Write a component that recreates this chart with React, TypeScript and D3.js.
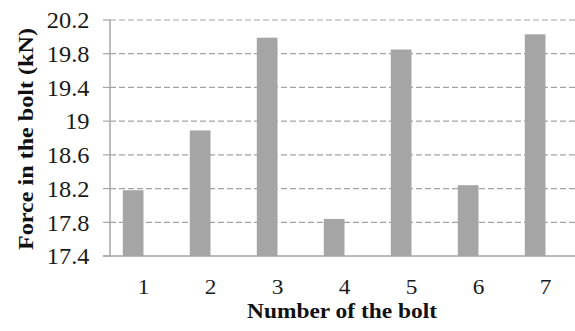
import React from "react";
import * as d3 from "d3";

const categories = ["1", "2", "3", "4", "5", "6", "7"];
const forces = [18.18, 18.89, 19.99, 17.84, 19.85, 18.24, 20.03];
const yTicks = [17.4, 17.8, 18.2, 18.6, 19, 19.4, 19.8, 20.2];

const W = 575;
const H = 331;
const margin = { left: 110, top: 20, right: -4, bottom: 75 };

export default function App() {
  const plotRight = W - margin.right;
  const plotBottom = H - margin.bottom;
  const x = d3
    .scaleBand<string>()
    .domain(categories)
    .range([margin.left, margin.left + 67 * categories.length])
    .paddingInner(0)
    .paddingOuter(0);
  const y = d3.scaleLinear().domain([17.4, 20.2]).range([plotBottom, margin.top]);
  const barW = 20.7;
  const serif = "'Liberation Serif', 'Times New Roman', serif";

  return (
    <svg
      width={W}
      height={H}
      style={{ position: "absolute", left: 0, top: 0, background: "#fff" }}
      fontFamily={serif}
    >
      {yTicks.slice(1).map((t) => (
        <line
          key={"g" + t}
          x1={margin.left}
          x2={plotRight}
          y1={y(t)}
          y2={y(t)}
          stroke="#a3a3a3"
          strokeWidth={1.2}
          strokeDasharray="6,3"
        />
      ))}
      {forces.map((v, i) => {
        const cx = (x(categories[i]) as number) + x.bandwidth() / 2;
        return (
          <rect
            key={"b" + i}
            x={cx - barW}
            y={y(v)}
            width={barW}
            height={plotBottom - y(v)}
            fill="#a5a5a5"
          />
        );
      })}
      <line x1={margin.left} x2={margin.left} y1={margin.top} y2={plotBottom} stroke="#a6a6a6" strokeWidth={1.5} />
      <line x1={margin.left - 7} x2={plotRight} y1={plotBottom} y2={plotBottom} stroke="#a6a6a6" strokeWidth={1.5} />
      {yTicks.map((t) => (
        <g key={"t" + t}>
          <line x1={margin.left - 7} x2={margin.left} y1={y(t)} y2={y(t)} stroke="#a6a6a6" strokeWidth={1.2} />
          <text
            transform={`translate(89.5,${y(t) + 8.3}) scale(1.06,1)`}
            textAnchor="end"
            fontSize={23}
            fill="#1a1a1a"
          >
            {d3.format("~g")(t)}
          </text>
        </g>
      ))}
      {categories.map((c) => (
        <text
          key={"x" + c}
          transform={`translate(${(x(c) as number) + x.bandwidth() / 2},293.5) scale(1.06,1)`}
          textAnchor="middle"
          fontSize={22}
          fill="#1a1a1a"
        >
          {c}
        </text>
      ))}
      <text
        x={342}
        y={317.5}
        textAnchor="middle"
        fontSize={21}
        fontWeight="bold"
        fill="#111"
        textLength={190}
        lengthAdjust="spacingAndGlyphs"
      >
        Number of the bolt
      </text>
      <text
        transform={`translate(25,139) rotate(-90)`}
        dy="0.35em"
        textAnchor="middle"
        fontSize={22}
        fontWeight="bold"
        fill="#111"
        textLength={222}
        lengthAdjust="spacingAndGlyphs"
      >
        Force in the bolt (kN)
      </text>
    </svg>
  );
}
